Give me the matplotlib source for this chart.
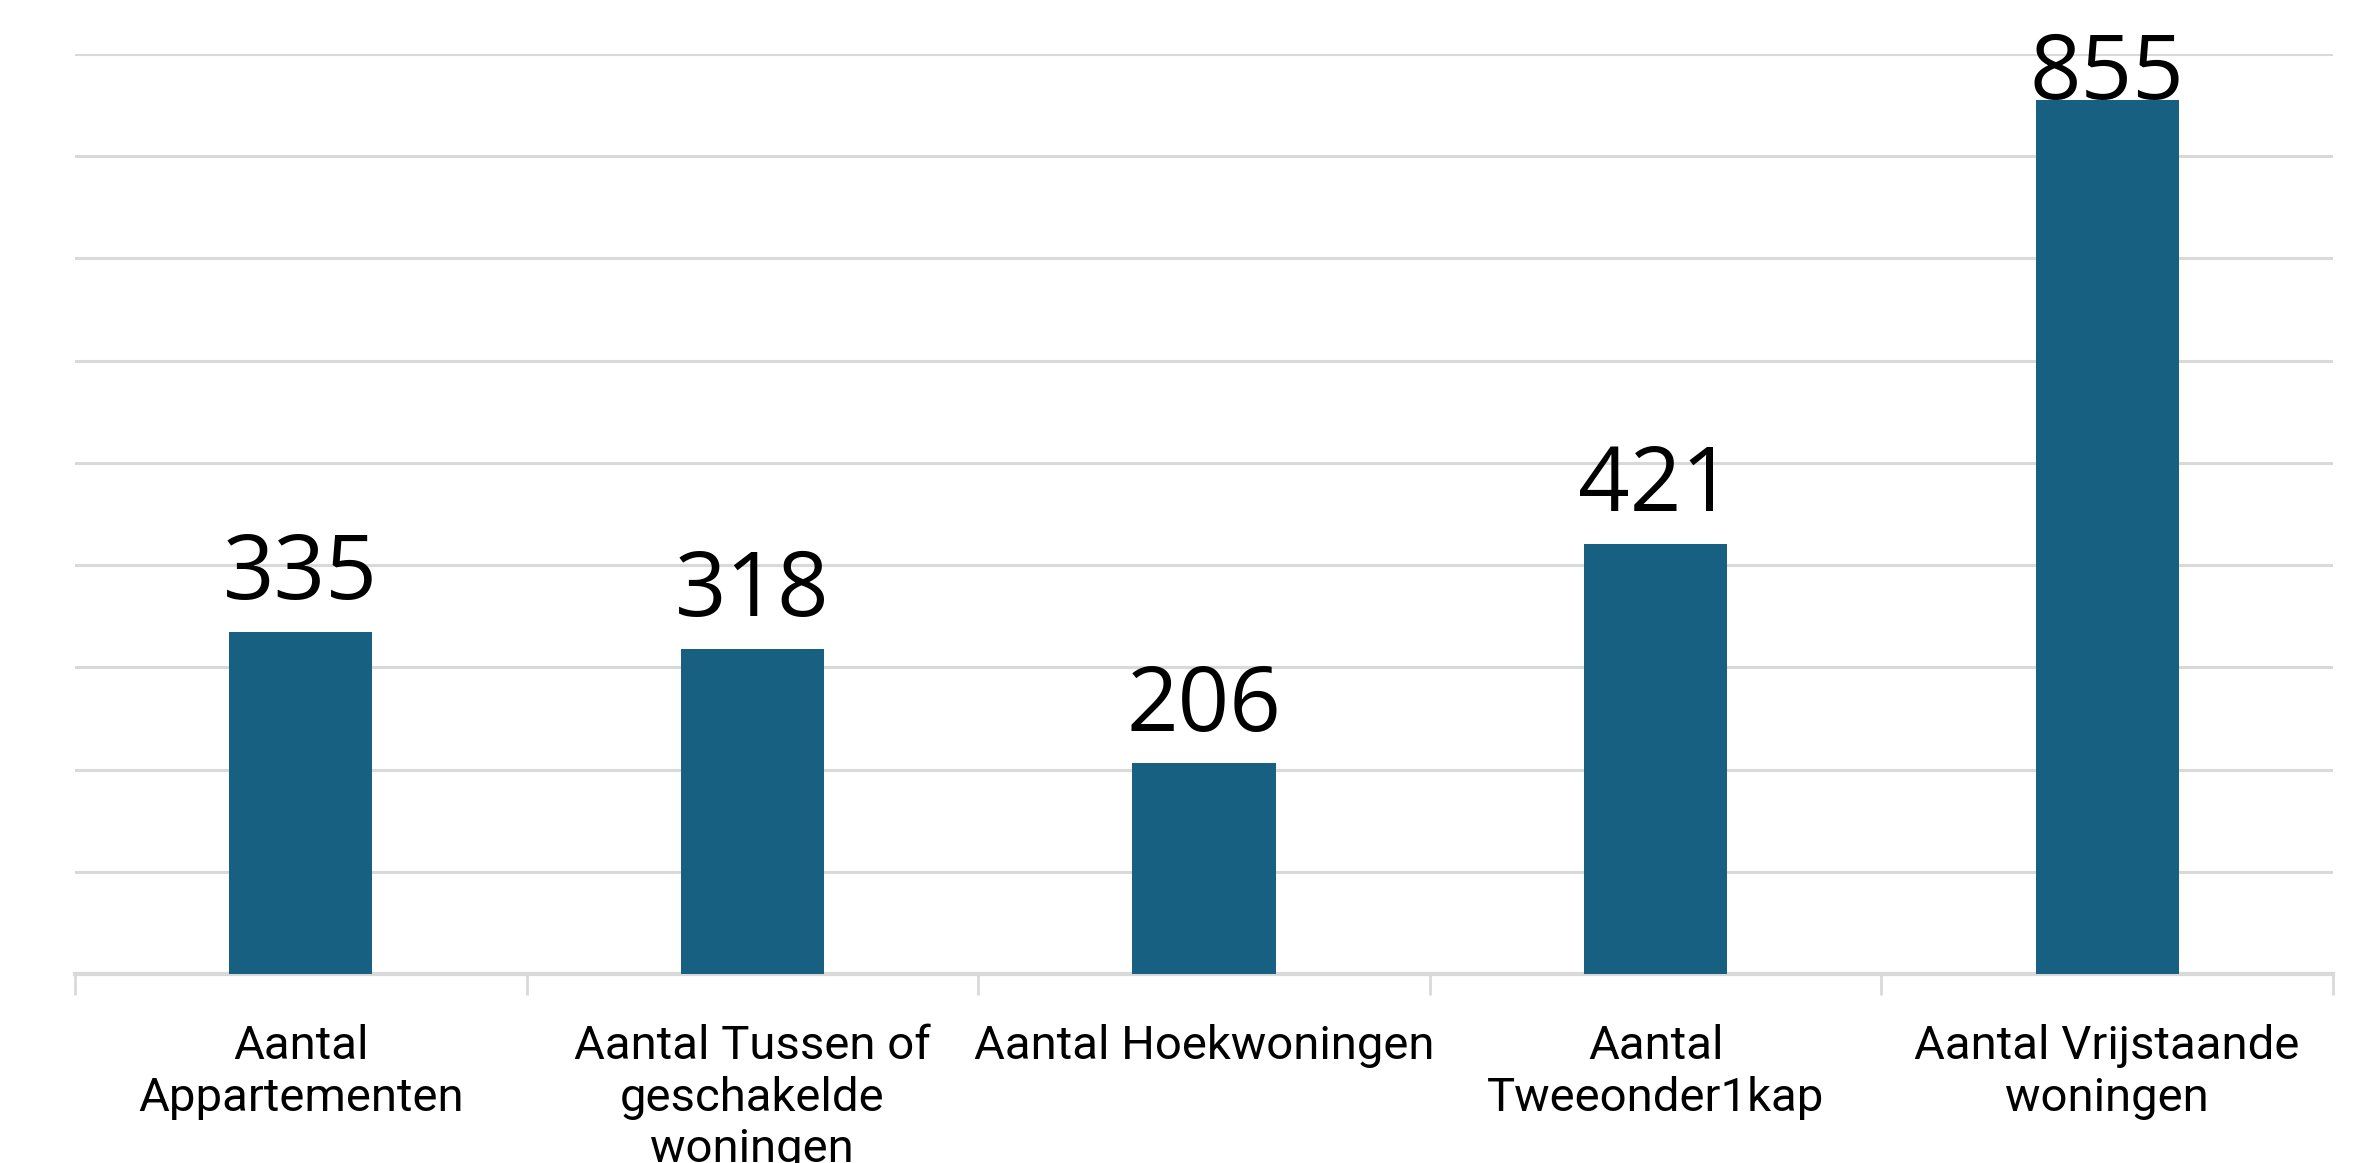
import matplotlib
matplotlib.use("Agg")
import matplotlib.pyplot as plt
import numpy as np

categories = ["Aantal\nAppartementen", "Aantal Tussen of\ngeschakelde\nwoningen",
              "Aantal Hoekwoningen", "Aantal\nTweeonder1kap", "Aantal Vrijstaande\nwoningen"]
values = [335, 318, 206, 421, 855]

bar_color = "#176082"
grid_color = "#d9d9d9"

fig = plt.figure(figsize=(23.57, 11.63), dpi=100)
ax = fig.add_axes([0.0318, 0.1625, 0.958, 0.7911])

x = np.arange(len(values))
ax.bar(x, values, width=0.317, color=bar_color, zorder=3)

ax.set_xlim(-0.5, len(values) - 0.5)
ax.set_ylim(0, 900)
ax.set_yticks(np.arange(0, 901, 100))
ax.yaxis.grid(True, color=grid_color, linewidth=2.2, zorder=0)
ax.tick_params(axis="y", left=False, labelleft=False)

# ticks at category boundaries, labels at centres
ax.set_xticks(np.arange(-0.5, len(values)), minor=False)
ax.set_xticklabels([])
ax.tick_params(axis="x", which="major", length=15, width=2, color=grid_color, direction="out")
ax.set_xticks(x, minor=True)
ax.set_xticklabels(categories, minor=True, fontsize=34, family="Roboto",
                   linespacing=1.22, va="top")
ax.tick_params(axis="x", which="minor", length=0, pad=36)

for s in ["top", "left", "right"]:
    ax.spines[s].set_visible(False)
ax.spines["bottom"].set_color(grid_color)
ax.spines["bottom"].set_linewidth(3)

for xi, v in zip(x, values):
    ax.text(xi, min(v + 32, 856), str(v), ha="center", va="baseline",
            fontsize=65, family="Open Sans", zorder=4)

fig.savefig("out.png", dpi=100)
